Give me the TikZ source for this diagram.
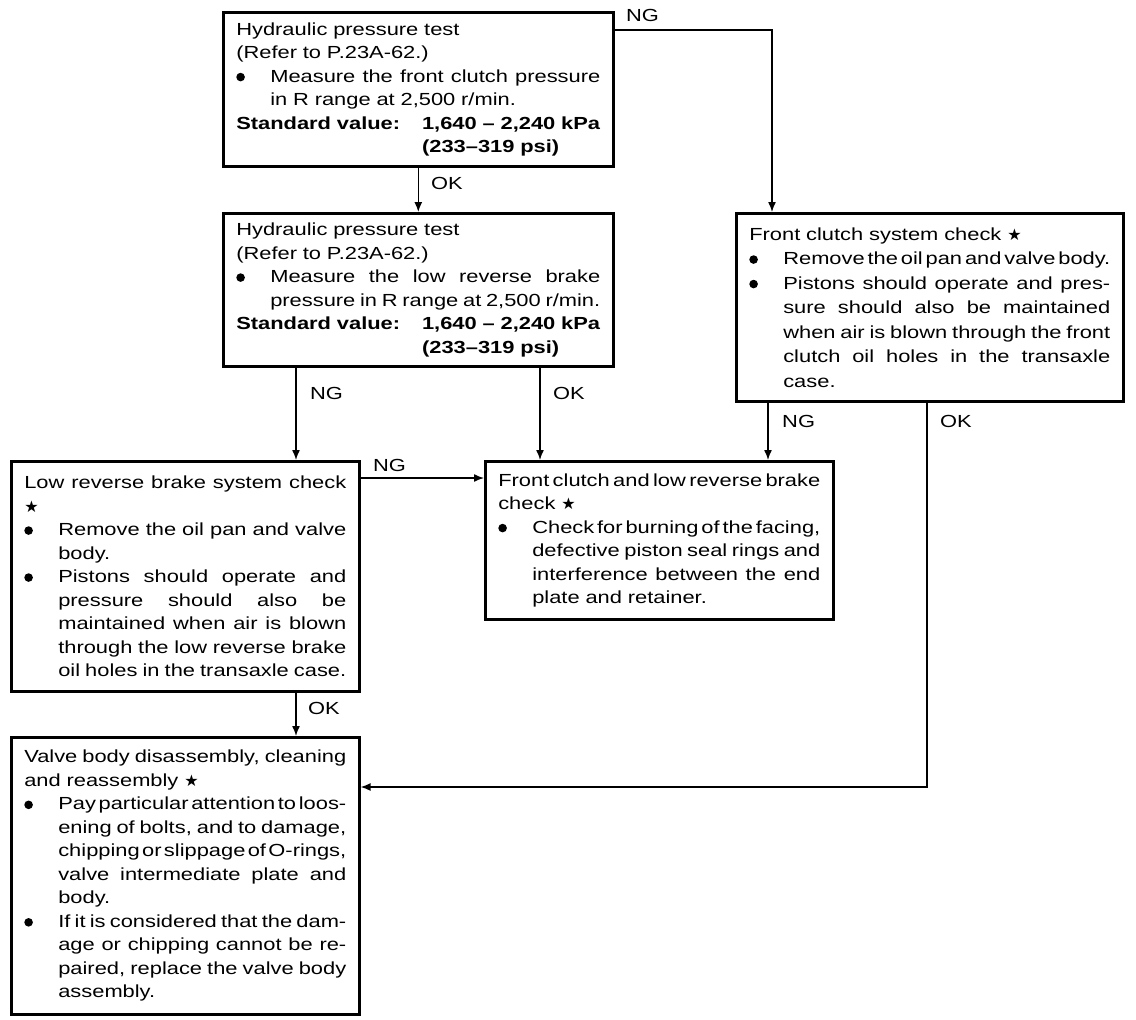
\documentclass[tikz,border=0pt]{standalone}
\usepackage{fontspec}
\setmainfont[FakeStretch=1.25]{Liberation Sans}
\newfontfamily\symf{DejaVu Sans}
\usetikzlibrary{arrows.meta}
\newcommand{\strr}{{\symf\fontsize{16}{16}\selectfont ★}}
\newcommand{\bul}{\tikz[baseline=-5pt]\fill[black] (0pt,0pt) circle (4.3pt);}
\newcommand{\jsp}{\spaceskip=\fontdimen2\font plus 1fil minus 0.8\fontdimen2\font\relax}
\newcommand{\lnJ}[1]{\makebox[\linewidth][s]{\jsp #1}}
\newcommand{\lnBJ}[1]{\makebox[34pt][l]{\bul}\makebox[\dimexpr\linewidth-34pt\relax][s]{\jsp #1}}
\newcommand{\lnBL}[1]{\makebox[34pt][l]{\bul}#1}
\newcommand{\lnIJ}[1]{\hspace*{34pt}\makebox[\dimexpr\linewidth-34pt\relax][s]{\jsp #1}}
\newcommand{\lnIL}[1]{\hspace*{34pt}#1}
\newcommand{\SVa}{\makebox[\linewidth][l]{\textbf{Standard value:}\hfill\textbf{1,640 – 2,240 kPa}}}
\newcommand{\SVb}{\makebox[\linewidth][r]{\rlap{\textbf{(233–319 psi)}}\phantom{\textbf{1,640 – 2,240 kPa}}}}
\begin{document}
\begin{tikzpicture}[x=1pt,y=-1pt,
  box/.style={draw, line width=2.6pt, anchor=north west, inner xsep=13pt, inner ysep=0pt,
    align=left, font=\fontsize{17.5}{23.5}\selectfont},
  con/.style={line width=1.4pt},
  arr/.style={con, -{Latex[length=10pt,width=8pt]}},
  lab/.style={anchor=west, inner sep=0pt, font=\fontsize{17.5}{20}\selectfont}]
\fill[white] (0,0) rectangle (1136,1020);
\useasboundingbox (0,0) rectangle (1136,1020);

\node[box, text width=364pt, minimum height=154pt] (b1) at (222,11) {%
Hydraulic pressure test\\
(Refer to P.23A-62.)\\
\lnBJ{Measure the front clutch pressure}\\
\lnIL{in R range at 2,500 r/min.}\\
\SVa\\
\SVb};

\node[box, text width=364pt, minimum height=153pt] (b2) at (222,212) {%
Hydraulic pressure test\\
(Refer to P.23A-62.)\\
\lnBJ{Measure the low reverse brake}\\
\lnIJ{pressure in R range at 2,500 r/min.}\\
\SVa\\
\SVb};

\node[box, text width=361pt, minimum height=188pt, font=\fontsize{17.5}{24.5}\selectfont] (b3) at (735,212) {%
Front clutch system check \strr\\
\lnBJ{Remove the oil pan and valve body.}\\
\lnBJ{Pistons should operate and pres-}\\
\lnIJ{sure should also be maintained}\\
\lnIJ{when air is blown through the front}\\
\lnIJ{clutch oil holes in the transaxle}\\
\lnIL{case.}};

\node[box, text width=322pt, minimum height=230pt] (b4) at (10,460) {%
\lnJ{Low reverse brake system check}\\
\strr\\
\lnBJ{Remove the oil pan and valve}\\
\lnIL{body.}\\
\lnBJ{Pistons should operate and}\\
\lnIJ{pressure should also be}\\
\lnIJ{maintained when air is blown}\\
\lnIJ{through the low reverse brake}\\
\lnIJ{oil holes in the transaxle case.}};

\node[box, text width=322pt, minimum height=158pt] (b5) at (484,460) {%
\lnJ{Front clutch and low reverse brake}\\
check \strr\\
\lnBJ{Check for burning of the facing,}\\
\lnIJ{defective piston seal rings and}\\
\lnIJ{interference between the end}\\
\lnIL{plate and retainer.}};

\node[box, text width=322pt, minimum height=277pt] (b6) at (10,736) {%
\lnJ{Valve body disassembly, cleaning}\\
and reassembly \strr\\
\lnBJ{Pay particular attention to loos-}\\
\lnIJ{ening of bolts, and to damage,}\\
\lnIJ{chipping or slippage of O-rings,}\\
\lnIJ{valve intermediate plate and}\\
\lnIL{body.}\\
\lnBJ{If it is considered that the dam-}\\
\lnIJ{age or chipping cannot be re-}\\
\lnIJ{paired, replace the valve body}\\
\lnIL{assembly.}};

\coordinate (xa) at (296,0);
\coordinate (xb) at (540,0);
\coordinate (xc) at (768,0);
\coordinate (xd) at (927,0);
\coordinate (xe) at (772,0);
\coordinate (ya) at (0,30);
\coordinate (yb) at (0,478);
\coordinate (yc) at (0,787);

\draw[arr] (b1.east |- ya) -| (b3.north -| xe);
\draw[arr] (b1.south) -- (b2.north);
\draw[arr] (b2.south -| xa) -- (b4.north -| xa);
\draw[arr] (b2.south -| xb) -- (b5.north -| xb);
\draw[arr] (b3.south -| xc) -- (b5.north -| xc);
\draw[arr] (b3.south -| xd) |- (b6.east |- yc);
\draw[arr] (b4.east |- yb) -- (b5.west |- yb);
\draw[arr] (b4.south -| xa) -- (b6.north -| xa);

\node[lab] (l1) at (626,15) {NG};
\node[lab] (l2) at (431,183) {OK};
\node[lab] (l3) at (310,393) {NG};
\node[lab] (l4) at (553,393) {OK};
\node[lab] (l5) at (782,421) {NG};
\node[lab] (l6) at (940,421) {OK};
\node[lab] (l7) at (373,465) {NG};
\node[lab] (l8) at (308,708) {OK};
\end{tikzpicture}
\end{document}
